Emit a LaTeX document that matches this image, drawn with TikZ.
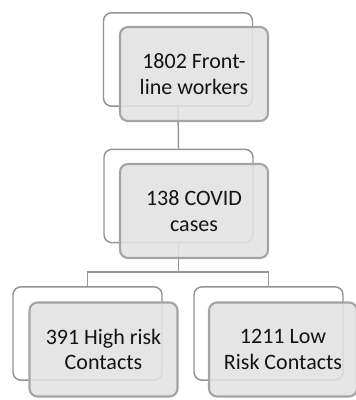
\documentclass[tikz,border=0pt]{standalone}
\usepackage{fontspec}
\setmainfont{Carlito}
\definecolor{backline}{HTML}{939393}
\definecolor{frontfill}{HTML}{E2E2E2}
\definecolor{frontline}{HTML}{A4A4A4}
\definecolor{conn}{HTML}{969696}
\begin{document}
\begin{tikzpicture}[x=0.75pt,y=-0.75pt,
  backbox/.style={draw=backline, line width=1.1pt, fill=white, rounded corners=6pt,
    minimum width=111.75pt, minimum height=70pt, inner sep=0pt},
  frontbox/.style={draw=frontline, line width=1.6pt, fill=frontfill, fill opacity=0.88,
    text opacity=1, rounded corners=6pt, minimum width=111pt, minimum height=70.5pt,
    inner sep=0pt, align=center, font=\fontsize{16.5}{19}\selectfont, text=black!92},
  link/.style={draw=conn, line width=1.1pt}]
\useasboundingbox (0,0) rectangle (356,400);
% back boxes
\node[backbox] (tb) at (178,59.5) {};
\node[backbox] (mb) at (178.5,196) {};
\node[backbox] (lb) at (87.5,333.5) {};
\node[backbox] (rb) at (268.5,333.5) {};
% connectors
\coordinate (split) at (178.5,272);
\draw[link] (tb.south) -- (mb.north);
\draw[link] (mb.south) -- (split);
\draw[link] (split) -| (lb.north);
\draw[link] (split) -| (rb.north);
% front boxes
\node[frontbox] (tf) at (194,74) {1802 Front-\\line workers};
\node[frontbox] (mf) at (194,211) {138 COVID\\cases};
\node[frontbox] (lf) at (103.5,349.5) {391 High risk\\Contacts};
\node[frontbox] (rf) at (283,349.5) {1211 Low\\Risk Contacts};
\end{tikzpicture}
\end{document}
